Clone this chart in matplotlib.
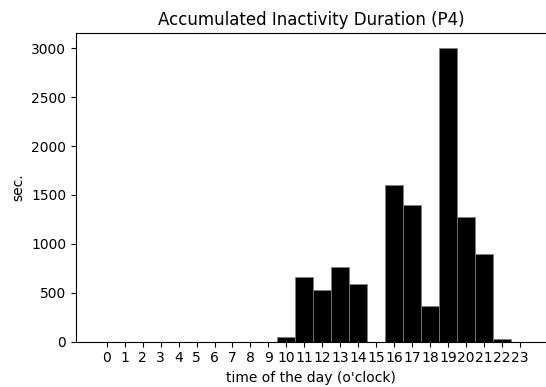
import numpy as np
import matplotlib
matplotlib.use('Agg')
import matplotlib.pyplot as plt

# horas del dia y segundos de inactividad acumulada
hours = list(range(24))
seconds = [0, 0, 0, 0, 0, 0, 0, 0, 0, 0,
           45, 658, 529, 761, 590, 0, 1602, 1398, 365, 3000, 1278, 897, 25, 0]

fig = plt.figure(figsize=(5.46, 3.87), dpi=100)
ax = fig.add_axes([76 / 546, 45.5 / 387, 470 / 546, 308.2 / 387])

ax.bar(hours, seconds, width=1.0, color='black', edgecolor='gray', linewidth=0.5)

ax.set_xticks(hours)
ax.set_xticklabels([str(h) for h in hours])
ax.set_xlim(-1.71, 24.45)
ax.set_ylim(0, 3153)
ax.set_yticks([0, 500, 1000, 1500, 2000, 2500, 3000])
ax.spines['right'].set_visible(False)

ax.set_xlabel("time of the day (o'clock)")
ax.set_ylabel('sec.')
ax.set_title('Accumulated Inactivity Duration (P4)')

fig.savefig('out.png', dpi=100)
